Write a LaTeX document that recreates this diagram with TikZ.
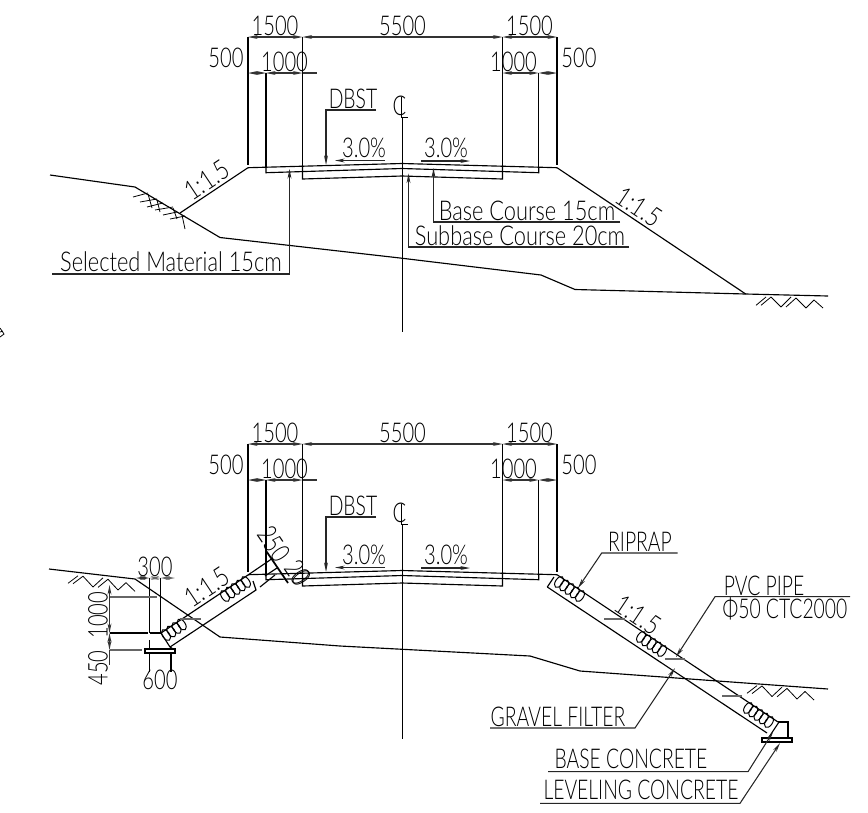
\documentclass[tikz,border=0pt]{standalone}
\usepackage{fontspec}
\setmainfont{Lato Light}[FakeStretch=0.74]
\newfontfamily\capfont{Lato Light}[FakeStretch=0.71]
\newfontfamily\wordfont{Lato Light}[FakeStretch=0.80]
\usetikzlibrary{arrows.meta}

\tikzset{
  lbl/.style={inner sep=0pt, anchor=base, text=black, font=\fontsize{15.5}{18}\selectfont},
  lblc/.style={lbl, anchor=center},
  lblcap/.style={lbl, font=\fontsize{15.5}{18}\selectfont\capfont},
  lblword/.style={lbl, font=\fontsize{15.5}{18}\selectfont\wordfont},
  part/.style={line width=0.65pt},
  heavy/.style={line width=0.85pt},
  dimline/.style={<->, >={Stealth[length=5.5pt,width=2.2pt]}, line width=0.6pt, black!80},
  leader/.style={->, >={Stealth[length=5.5pt,width=2.2pt]}, line width=0.6pt, black!85},
  hatchline/.style={line width=0.45pt},
  pipe/.style={line width=1.2pt, black!60},
}

% one run of ground ticks: left x, top y, fall per unit of x
\newcommand{\groundhatch}[3]{
  \foreach \xa/\ya/\xb/\yb in {0/8.3/10/0, 5/8.3/15/0, 15/0/25/10, 25/10/35/0, 30/10/40/1, 40/1/50/11, 50/11/58/3, 58/3/67/11} {
    \draw[hatchline] ({#1+\xa},{#2+\ya+#3*\xa}) -- ({#1+\xb},{#2+\yb+#3*\xb});
  }
}
% one run of riprap stones: first centre, last index, +1 slope falling right, -1 rising
\newcommand{\riprapgroup}[4]{
  \foreach \i in {0,...,#3} {
    \draw[line width=0.55pt] ({#1+\i*5.25},{#2+#4*\i*3.5}) ellipse [x radius=0.07cm, y radius=0.125cm, rotate={-33.7*#4}];
  }
}

\begin{document}
\begin{tikzpicture}[x=0.02cm, y=-0.02cm]
  \useasboundingbox (0,0) rectangle (868,812);

  % Carriageway and dimensions, the same in both sections
  \foreach \off in {0,407} {
    \begin{scope}[shift={(0,\off)}]
      % Layers
      \draw[part] (248,167.7) -- (402,163.5) -- (557,167.7);
      \draw[part] (266,167) -- (266,172.7) -- (402,168.5) -- (538.7,172.7) -- (538.7,167);
      \draw[part] (302.5,165) -- (302.5,179) -- (402,176) -- (502.5,179) -- (502.5,165);

      % Extension lines
      \draw[heavy] (248,37) -- (248,165);
      \draw[heavy] (302.5,37) -- (302.5,165);
      \draw[heavy] (502.5,37) -- (502.5,165);
      \draw[part] (266,73) -- (266,167);
      \draw[part] (538.7,73) -- (538.7,167);
      \draw[part] (557,37) -- (557,165);

      % Dimension lines
      \draw[dimline] (248,37) -- (302.5,37);
      \draw[dimline] (302.5,37) -- (502.5,37);
      \draw[dimline] (502.5,37) -- (557,37);
      \draw[dimline] (248,73) -- (266,73);
      \draw[dimline] (266,73) -- (302.5,73);
      \draw[black!80, line width=0.6pt] (302.5,73) -- (317,73);
      \draw[dimline] (502.5,73) -- (538.7,73);
      \draw[dimline] (538.7,73) -- (557,73);

      \node[lbl] (wideL\off) at (275,35) {1500};
      \node[lbl] (wideC\off) at (402.5,35) {5500};
      \node[lbl] (wideR\off) at (529.5,35) {1500};
      \node[lbl] (shortL\off) at (226,67.5) {500};
      \node[lbl] (shoulderL\off) at (284.5,71.5) {1000};
      \node[lbl] (shoulderR\off) at (513.5,71.5) {1000};
      \node[lbl] (shortR\off) at (579,67.5) {500};

      % Surfacing label
      \node[lblcap] (dbst\off) at (353,108.5) {DBST};
      \draw[leader] (376,110) -- (326,110) -- (326,165);

      % Centre line
      \node[lbl] (centre\off) at (399.5,115.5) {C};
      \draw[line width=0.5pt] (401.5,97) -- (401.5,117) -- (408,117);
      \draw[line width=0.55pt] (402,118) -- (402,332);

      % Crossfall
      \node[lbl] (fallL\off) at (364,157.5) {3.0\%};
      \node[lbl] (fallR\off) at (446,157.5) {3.0\%};
      \draw[leader] (385,160.5) -- (335,160.5);
      \draw[leader] (421,161) -- (470,161);
    \end{scope}
  }

  % Upper section: fill slopes and ground
  \draw[part] (248,167.7) -- (180,213);
  \draw[part] (557,167.7) -- (745.7,294);
  \draw[part] (50,175) -- (135,187) -- (220,237.5) -- (400,258) -- (541,275) -- (575,289.5) -- (745.7,294) -- (828,296);
  \node[lblword, anchor=center, rotate=33.7] (slopeUL) at (207,180) {1:1.5};
  \node[lblword, anchor=center, rotate=-33.7] (slopeUR) at (639,207) {1:1.5};

  % Upper section: cut hatching
  \foreach \xa/\ya/\xb/\yb in {133/197/148/193, 140/202/157/199, 147/207/163/203,
      155/210/173/207, 163/215/177/212, 170/219/185/216,
      148/194/152/208, 157/200/160/212, 173/208/177/219, 182/215/185/229} {
    \draw[hatchline] (\xa,\ya) -- (\xb,\yb);
  }
  \groundhatch{756}{297}{0}

  % Upper section: layer labels
  \node[lblword] (selected) at (171,271.5) {Selected Material 15cm};
  \draw[leader] (52,274) -- (289.5,274) -- (289.5,169);
  \node[lblword] (base) at (527,220) {Base Course 15cm};
  \draw[leader] (620,222) -- (433.5,222) -- (433.5,168);
  \node[lblword] (subbase) at (520,245.5) {Subbase Course 20cm};
  \draw[leader] (629,247) -- (408.5,247) -- (408.5,173.5);

  % Stray mark at the edge of the sheet
  \draw[hatchline] (0,328) -- (4,334) -- (0,337);
  \draw[hatchline] (0,332) -- (3,331);

  % Lower section: ground
  \draw[part] (49,569) -- (135,579) -- (220,637) -- (340,646) -- (530,656) -- (580,671) -- (828,689);
  \groundhatch{68}{575}{0.08}
  \groundhatch{747}{685}{0.06}

  % Lower section: left slope lining
  \draw[part] (161,633) -- (248,575);
  \draw[part] (170,647) -- (256,590) -- (253,581);
  \draw[part] (161,633) -- (170,647);
  \draw[part] (248,575) -- (273,558);
  \draw[part] (265,576) -- (277,568);
  \draw[part] (260,587) -- (275,575);
  \draw[line width=1pt] (266.7,551.7) -- (288,583);
  \node[lblc, rotate=-56] (liningA) at (274,544) {250};
  \node[lblc, rotate=-56] (liningB) at (298,573) {20\kern-6pt 0};
  \node[lblword, anchor=center, rotate=33.7] (slopeLL) at (207,587) {1:1.5};
  \riprapgroup{166}{635}{3}{-1}
  \riprapgroup{225}{596}{4}{-1}
  \draw[pipe] (180,619) -- (201,619);

  % Lower section: left toe
  \draw[part] (149.5,578) -- (149.5,633);
  \draw[part] (160.5,578) -- (160.5,633);
  \draw[part] (149.5,633) -- (161,633);
  \draw[part] (149.5,640) -- (149.5,649);
  \draw[part] (145,649) rectangle (175,653);
  \draw[part] (170,647) -- (173,649);
  \draw[part] (149.5,653) -- (149.5,672);
  \draw[part] (171,653) -- (171,672);
  \draw[dimline] (136,578) -- (149.5,578);
  \draw[dimline, black!60] (149.5,578) -- (160.5,578);
  \draw[dimline, black!60] (160.5,578) -- (175,578);
  \node[lbl] (toeWidth) at (155,576) {300};
  \draw[dimline] (109.5,585) -- (109.5,633);
  \draw[dimline] (109.5,633) -- (109.5,650);
  \draw[black!80, line width=0.6pt] (109.5,650) -- (109.5,665);
  \draw[black!60, line width=0.8pt] (109.5,597) -- (157,597);
  \draw[part] (109.5,633) -- (148,633);
  \draw[black!60, line width=0.8pt] (109.5,650) -- (142,650);
  \node[lblc, rotate=90] (toeHigh) at (98,615) {1000};
  \node[lblc, rotate=90] (toeLow) at (98,668) {450};
  \node[lbl] (toeFoot) at (160,689) {600};

  % Lower section: right slope lining
  \draw[part] (557,574.7) -- (778,722);
  \draw[part] (547.3,587) -- (767,733);
  \draw[part] (547.3,587) -- (554,577);
  \node[lblword, anchor=center, rotate=-33.7] (slopeLR) at (638,615) {1:1.5};
  \riprapgroup{559}{582}{4}{1}
  \riprapgroup{641}{637}{4}{1}
  \riprapgroup{748}{708}{4}{1}
  \draw[pipe] (604,619) -- (625,619);
  \draw[pipe] (665,659) -- (685,659);
  \draw[pipe] (722,696) -- (742,696);

  % Lower section: right toe
  \draw[part] (778,722) -- (788,722) -- (788,738);
  \draw[part] (779,722) -- (769,737);
  \draw[part] (762,738) rectangle (792,742);

  % Lower section: labels
  \node[lblcap] (riprap) at (640,551) {RIPRAP};
  \draw[leader] (677.7,553) -- (601.7,553) -- (578,588);
  \node[lblcap] (pvc) at (764,595) {PVC PIPE};
  \node[lblcap] (pvcSize) at (785,618) {Φ50 CTC2000};
  \draw[leader] (850,596.7) -- (715,596.7) -- (676,657);
  \node[lblcap] (gravel) at (558,726) {GRAVEL FILTER};
  \draw[leader] (490,728) -- (635,728) -- (675,668);
  \node[lblcap] (baseConc) at (631,768) {BASE CONCRETE};
  \draw[leader] (548,771.7) -- (748,771.7) -- (773,732);
  \node[lblcap] (levelConc) at (641,799) {LEVELING CONCRETE};
  \draw[leader] (540,803.3) -- (740,803.3) -- (780,743);
\end{tikzpicture}
\end{document}
